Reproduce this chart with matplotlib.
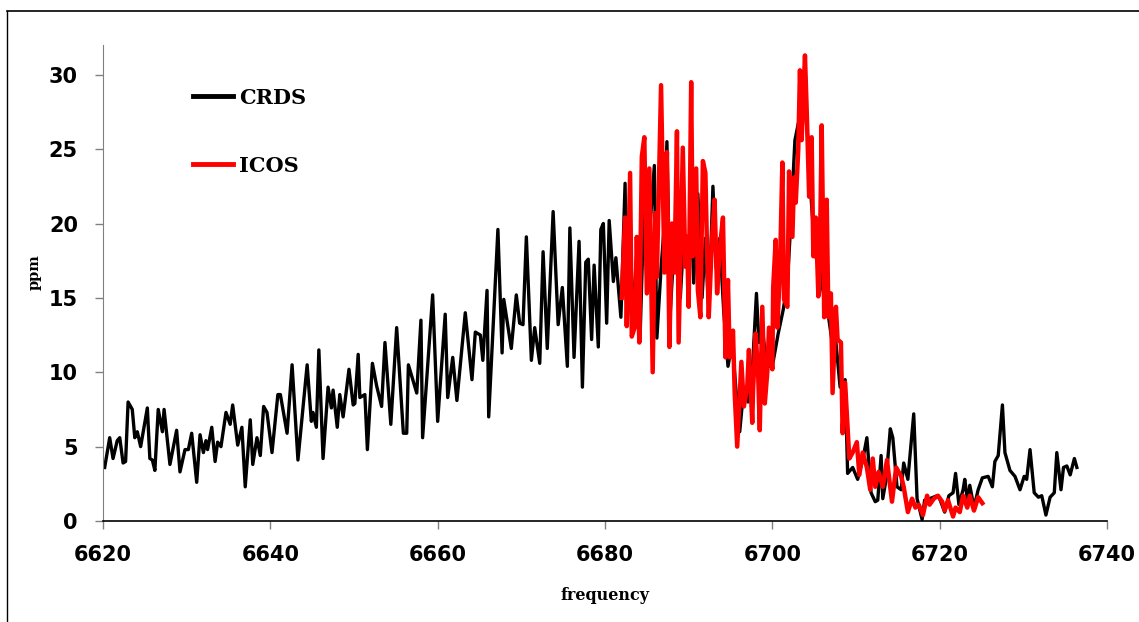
import matplotlib
matplotlib.use("Agg")
import matplotlib.pyplot as plt
from matplotlib.lines import Line2D

# CRDS series (frequency, ppm)
crds_freq = [
    6620.2, 6620.8, 6621.2, 6621.7, 6622.0, 6622.4, 6622.7, 6623.0, 6623.5, 6623.8,
    6624.1, 6624.5, 6625.3, 6625.6, 6625.9, 6626.2, 6626.6, 6627.1, 6627.3, 6628.0,
    6628.8, 6629.2, 6629.8, 6630.2, 6630.6, 6631.2, 6631.6, 6632.0, 6632.3, 6632.5,
    6633.0, 6633.4, 6633.7, 6634.1, 6634.7, 6635.2, 6635.5, 6636.1, 6636.6, 6637.0,
    6637.6, 6637.9, 6638.4, 6638.8, 6639.2, 6639.6, 6640.2, 6640.9,
    6641.2, 6642.0, 6642.6, 6643.3, 6644.4, 6644.9, 6645.1, 6645.5, 6645.8, 6646.3,
    6646.9, 6647.3, 6647.5, 6648.0, 6648.3, 6648.7, 6649.4, 6649.9, 6650.1, 6650.5,
    6650.7, 6651.3, 6651.6, 6652.2, 6652.7, 6653.3, 6653.7, 6654.4, 6655.1, 6655.9,
    6656.3, 6656.5, 6657.5, 6658.0, 6658.2, 6659.4, 6660.0, 6660.9, 6661.2,
    6661.8, 6662.3, 6663.3, 6664.1, 6664.5, 6665.1, 6665.4, 6665.9, 6666.1, 6667.2,
    6667.7, 6667.9, 6668.8, 6669.4, 6669.8, 6670.2, 6670.6, 6671.2, 6671.6, 6672.2,
    6672.6, 6673.1, 6673.8, 6674.4, 6674.9, 6675.5, 6675.8, 6676.3, 6676.9, 6677.3,
    6677.7, 6678.0, 6678.4, 6678.7, 6679.2, 6679.5, 6679.8, 6680.2, 6680.5, 6681.0,
    6681.3, 6681.9, 6682.4,
    6682.6, 6683.0, 6683.3, 6683.8, 6684.2, 6684.7, 6685.0, 6685.4, 6685.9, 6686.2,
    6686.7, 6687.1, 6687.4, 6687.8, 6688.2, 6688.6, 6689.0, 6689.4, 6689.9, 6690.3,
    6690.6, 6691.1, 6691.6, 6692.0, 6692.4, 6692.9, 6693.3, 6693.7, 6694.2, 6694.7,
    6695.2, 6695.7, 6696.1, 6696.6, 6697.1, 6697.6, 6698.1, 6698.4, 6698.8, 6699.2,
    6699.6, 6700.0, 6700.7, 6701.3, 6701.8, 6702.2, 6702.7, 6703.2, 6703.7, 6704.2,
    6704.6, 6705.1, 6705.7, 6706.2, 6706.7, 6707.1, 6707.6, 6708.1, 6708.7,
    6709.0, 6709.6, 6710.2, 6710.8, 6711.3, 6711.8, 6712.3, 6712.6, 6713.0, 6713.2,
    6713.6, 6714.1, 6714.4, 6714.9, 6715.4, 6715.7, 6716.2, 6716.9, 6717.3, 6717.9,
    6718.2, 6718.8, 6719.7, 6720.0, 6720.6, 6721.1, 6721.6, 6721.9, 6722.3, 6722.8,
    6723.0, 6723.4, 6723.6, 6724.1, 6724.6, 6725.1, 6725.8, 6726.3, 6726.6, 6727.0,
    6727.5, 6727.8, 6728.4, 6729.0, 6729.6, 6730.1, 6730.4, 6730.8, 6731.3, 6731.8,
    6732.2, 6732.7, 6733.2, 6733.7, 6734.0, 6734.5, 6734.8, 6735.2, 6735.6, 6736.1,
    6736.4,
]
crds_ppm = [
    3.6, 5.6, 4.2, 5.4, 5.6, 3.9, 4.0, 8.0, 7.5, 5.6,
    6.0, 5.0, 7.6, 4.2, 4.1, 3.4, 7.5, 6.0, 7.5, 3.8,
    6.1, 3.3, 4.8, 4.8, 5.9, 2.6, 5.8, 4.6, 5.4, 4.8,
    6.3, 4.0, 5.3, 5.0, 7.3, 6.5, 7.8, 5.1, 6.3, 2.3,
    6.8, 3.8, 5.6, 4.4, 7.7, 7.3, 4.6, 8.5,
    8.5, 5.9, 10.5, 4.1, 10.5, 6.7, 7.3, 6.3, 11.5, 4.2,
    9.0, 7.6, 8.8, 6.3, 8.5, 7.0, 10.2, 7.8, 7.9, 11.2,
    8.3, 8.5, 4.8, 10.6, 9.1, 7.7, 12.0, 6.5, 13.0, 5.9,
    5.9, 10.5, 8.6, 13.5, 5.6, 15.2, 6.7, 13.9, 8.3,
    11.0, 8.1, 14.0, 9.5, 12.7, 12.5, 10.8, 15.5, 7.0, 19.6,
    11.3, 14.9, 11.6, 15.2, 13.3, 13.2, 19.1, 10.8, 13.0, 10.6,
    18.1, 11.6, 20.8, 13.2, 15.7, 10.4, 19.7, 11.0, 18.8, 9.0,
    17.4, 17.6, 12.2, 17.2, 11.7, 19.6, 20.0, 13.3, 20.2, 16.1,
    17.7, 13.7, 22.7,
    14.0, 21.0, 13.0, 18.0, 12.5, 22.0, 16.0, 20.0, 23.9, 12.3,
    17.0, 20.0, 25.5, 14.0, 18.0, 21.0, 15.0, 19.0, 17.0, 21.0,
    16.0, 22.0, 15.0, 19.0, 14.0, 22.5, 17.0, 19.0, 14.0, 10.4,
    12.0, 8.5, 6.0, 9.0, 8.0, 10.0, 15.3, 12.0, 13.0, 11.0,
    10.4, 10.4, 12.6, 14.2, 16.0, 20.0, 25.6, 27.0, 29.0, 26.0,
    22.0, 18.0, 16.7, 15.0, 13.8, 12.2, 12.0, 9.0, 9.5,
    3.2, 3.6, 2.8, 4.1, 5.6, 1.9, 1.3, 1.4, 4.4, 1.5,
    2.8, 6.2, 5.6, 2.3, 2.1, 3.9, 2.8, 7.2, 1.5, 0.1,
    1.4, 1.5, 1.7, 1.5, 0.6, 1.7, 1.9, 3.2, 1.1, 2.1,
    2.8, 1.1, 2.4, 0.9, 2.1, 2.9, 3.0, 2.3, 4.0, 4.4,
    7.8, 4.6, 3.4, 3.0, 2.1, 3.0, 2.8, 4.8, 1.9, 1.6,
    1.7, 0.4, 1.6, 1.9, 4.6, 2.1, 3.6, 3.7, 3.1, 4.2,
    3.6,
]

# ICOS series (frequency, ppm)
icos_freq = [
    6682.0, 6682.4, 6682.6, 6683.0, 6683.2, 6683.6, 6683.8, 6684.1, 6684.4, 6684.7,
    6685.0, 6685.3, 6685.7, 6686.0, 6686.2, 6686.7, 6687.1, 6687.4, 6687.7, 6688.0,
    6688.3, 6688.6, 6688.8, 6689.3, 6689.6, 6689.8, 6690.0, 6690.3, 6690.5, 6690.9,
    6691.1, 6691.4, 6691.7, 6692.0, 6692.2, 6692.4, 6692.8, 6693.1, 6693.4, 6693.7,
    6694.1, 6694.4, 6694.7, 6694.9, 6695.3, 6695.5, 6695.8, 6696.3, 6696.6, 6697.0,
    6697.2, 6697.6, 6697.7, 6698.0, 6698.3, 6698.5, 6698.8, 6699.1, 6699.4, 6699.6,
    6700.0, 6700.1, 6700.4, 6700.6, 6700.9, 6701.2, 6701.4, 6701.8, 6702.0, 6702.4,
    6702.6, 6702.8, 6703.1, 6703.3, 6703.5, 6703.9, 6704.1, 6704.4, 6704.7, 6704.9,
    6705.2, 6705.5, 6705.7, 6705.9, 6706.2, 6706.5, 6706.7, 6707.0, 6707.2, 6707.6,
    6707.8, 6708.2, 6708.4, 6708.7, 6709.2, 6709.6, 6710.1, 6710.4, 6710.8, 6711.3,
    6711.7, 6712.0, 6712.3, 6712.7, 6713.2, 6713.7, 6714.3, 6714.8, 6715.4, 6715.7,
    6716.2, 6716.7, 6717.1, 6717.5, 6718.0, 6718.5, 6718.8, 6719.3, 6719.8, 6720.3,
    6720.6, 6721.0, 6721.6, 6721.9, 6722.4, 6722.8, 6723.3, 6723.6, 6724.1, 6724.6,
    6725.1,
]
icos_ppm = [
    15.0, 20.4, 13.1, 23.4, 12.4, 13.1, 19.1, 12.0, 24.5, 25.8,
    15.3, 23.7, 10.0, 20.7, 16.4, 29.3, 16.7, 24.8, 11.7, 20.0,
    16.7, 26.2, 12.0, 25.1, 17.1, 19.1, 14.4, 29.5, 17.8, 23.7,
    15.5, 13.7, 24.2, 23.4, 18.1, 13.7, 19.1, 21.6, 15.3, 18.2,
    20.4, 11.0, 16.2, 11.0, 12.8, 8.6, 5.0, 10.7, 7.7, 9.0,
    11.5, 6.6, 8.8, 12.6, 10.0, 6.1, 14.4, 7.9, 10.0, 13.0,
    10.2, 15.7, 18.9, 13.0, 16.7, 24.1, 14.9, 14.4, 23.5, 19.1,
    23.1, 21.4, 25.0, 30.3, 25.6, 31.3, 27.8, 21.8, 25.8, 17.8,
    20.4, 15.1, 18.7, 26.6, 13.7, 21.6, 13.7, 15.3, 8.6, 14.4,
    12.2, 12.0, 5.9, 9.3, 4.2, 4.6, 5.3, 3.1, 4.6, 3.6,
    2.1, 4.2, 2.3, 3.3, 2.3, 4.1, 1.3, 3.6, 3.0, 2.3,
    0.6, 1.5, 0.9, 1.1, 0.4, 1.7, 1.1, 1.5, 1.7, 1.3,
    0.7, 1.4, 0.3, 0.9, 0.6, 1.7, 0.9, 1.7, 0.7, 1.6,
    1.2,
]

x_ticks = [6620, 6640, 6660, 6680, 6700, 6720, 6740]
y_ticks = [0, 5, 10, 15, 20, 25, 30]
series_names = ["CRDS", "ICOS"]
series_colors = ["black", "#ff0000"]

W, H = 1139, 622
fig = plt.figure(figsize=(W / 100, H / 100), dpi=100)
ax = fig.add_axes([103 / W, 1 - 521 / H, (1107 - 103) / W, (521 - 45) / H])

ax.plot(crds_freq, crds_ppm, color=series_colors[0], lw=2.4, solid_joinstyle="round", zorder=2)
ax.plot(icos_freq, icos_ppm, color=series_colors[1], lw=3.2, solid_joinstyle="round", zorder=3)

ax.set_xlim(6620, 6740)
ax.set_ylim(0, 32)
ax.set_xticks(x_ticks)
ax.set_yticks(y_ticks)
ax.set_xticklabels([str(v) for v in x_ticks], fontsize=15, fontweight="bold", family="DejaVu Sans")
ax.set_yticklabels([str(v) for v in y_ticks], fontsize=15, fontweight="bold", family="DejaVu Sans")
ax.tick_params(direction="out", length=6, width=1, colors="#808080", labelcolor="black", pad=12)
ax.tick_params(axis="x", pad=11)
for s in ["top", "right"]:
    ax.spines[s].set_visible(False)
ax.spines["left"].set_color("#808080")
ax.spines["bottom"].set_color("black")
ax.spines["bottom"].set_linewidth(1.2)

ax.set_xlabel("frequency", fontsize=11.5, fontweight="bold", family="DejaVu Serif", labelpad=16)
ax.set_ylabel("ppm", fontsize=10.5, fontweight="bold", family="DejaVu Serif", labelpad=0)
ax.yaxis.set_label_coords((42 - 103) / (1107 - 103), (521 - 272) / (521 - 45))

# legend drawn manually (figure pixel positions)
for name, col, ly in zip(series_names, series_colors, [96, 164]):
    fig.add_artist(Line2D([193 / W, 233 / W], [1 - ly / H, 1 - ly / H], color=col, lw=3.5,
                          transform=fig.transFigure))
    fig.text(239 / W, 1 - (ly + 2) / H, name, ha="left", va="center", fontsize=15,
             fontweight="bold", family="DejaVu Serif")

# outer chart frame (top and left edges visible)
fig.add_artist(Line2D([7 / W, 1.0], [1 - 11 / H, 1 - 11 / H], color="black", lw=1.2,
                      transform=fig.transFigure))
fig.add_artist(Line2D([7 / W, 7 / W], [0, 1 - 11 / H], color="black", lw=1.0,
                      transform=fig.transFigure))

fig.savefig("out.png", dpi=100)
